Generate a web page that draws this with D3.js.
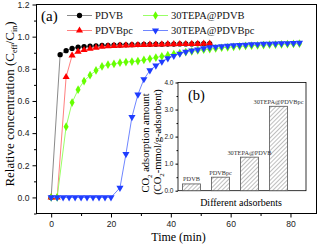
<!DOCTYPE html>
<html><head><meta charset="utf-8">
<script src="https://cdn.jsdelivr.net/npm/d3@7"></script>
<style>body{margin:0;background:#fff}svg{display:block}</style>
</head><body>
<svg id="c" width="322" height="247"></svg>
<script>
// ---- Data (a) breakthrough curves ----
const pdvbTime = [0,3,5,7,9,11,13,15,17,19,21,23,25,27,29,31,33,35,37,39,41,43,45,47,49,51,53];
const pdvbVal  = [0,0.888,0.913,0.927,0.934,0.938,0.941,0.943,0.945,0.946,0.947,0.948,0.949,0.950,0.951,0.952,0.952,0.953,0.953,0.954,0.954,0.955,0.955,0.955,0.956,0.956,0.956];
const pdvbpcTime = [0,2,5,7,9,11,13,15,17,19,21,23,25,27,29,31,33,35,37,39,41,43,45,47,49,51,53];
const pdvbpcVal  = [0,0,0.749,0.883,0.907,0.917,0.925,0.932,0.937,0.940,0.942,0.944,0.946,0.947,0.948,0.949,0.950,0.951,0.952,0.953,0.953,0.954,0.954,0.955,0.955,0.956,0.956];
const tepaTime = [0,2,5,7,9,11,13,15,17,19,21,23,25,27,29,31,33,35,37,39,41,43,45,47,49,51,53,55,57,59,61,63,65,67,69,71,73,75,77,79,81,83];
const tepaVal  = [0,0,0.44,0.59,0.67,0.724,0.76,0.79,0.815,0.826,0.83,0.838,0.842,0.845,0.848,0.855,0.862,0.87,0.878,0.885,0.892,0.898,0.904,0.909,0.914,0.919,0.923,0.927,0.931,0.934,0.937,0.94,0.942,0.944,0.946,0.948,0.95,0.951,0.952,0.954,0.955,0.956];
const tepapcTime = [0,2,4,6,8,10,12,14,16,18,20,23,25,27,29,31,33,35,37,39,41,43,45,47,49,51,53,55,57,59,61,63,65,67,69,71,73,75,77,79,81,83];
const tepapcVal  = [0,0,0,0,0,0,0,0,0,0,0,0.06,0.27,0.50,0.64,0.735,0.79,0.82,0.844,0.865,0.88,0.894,0.905,0.913,0.92,0.927,0.933,0.937,0.94,0.943,0.946,0.948,0.95,0.952,0.953,0.955,0.956,0.957,0.958,0.959,0.96,0.961];
const seriesNames = ["PDVB","PDVBpc","30TEPA@PDVB","30TEPA@PDVBpc"];
const xTicks = [0,20,40,60,80];
const yTicks = [0,0.2,0.4,0.6,0.8,1.0,1.2];
// ---- Data (b) CO2 adsorption amount ----
const adsorbents = ["PDVB","PDVBpc","30TEPA@PDVB","30TEPA@PDVBpc"];
const co2Amount = [0.25,0.50,1.24,3.12];
const insetYTicks = [0,1,2,3,4];

const svg = d3.select("#c");
const serif = "'Liberation Serif','Times New Roman',serif";
const sans = "'Liberation Sans',Arial,sans-serif";

const L=36.5, R=316.5, T=4.5, B=213.5;
const x = d3.scaleLinear().domain([-4.9,88.7]).range([L,R]);
const y = d3.scaleLinear().domain([-0.1,1.2]).range([B,T]);

// frame
svg.append("rect").attr("x",L).attr("y",T).attr("width",R-L).attr("height",B-T)
  .attr("fill","none").attr("stroke","#000").attr("stroke-width",1);

// axes
const gx = svg.append("g").attr("transform",`translate(0,${B})`)
  .call(d3.axisBottom(x).tickValues(xTicks).tickSize(4).tickSizeOuter(0).tickPadding(3));
svg.append("g").attr("transform",`translate(0,${B})`)
  .call(d3.axisBottom(x).tickValues([10,30,50,70]).tickSize(2.5).tickSizeOuter(0).tickFormat(""));
const gy = svg.append("g").attr("transform",`translate(${L},0)`)
  .call(d3.axisLeft(y).tickValues(yTicks).tickSize(4).tickSizeOuter(0).tickPadding(3).tickFormat(d3.format(".1f")));
svg.append("g").attr("transform",`translate(${L},0)`)
  .call(d3.axisLeft(y).tickValues([-0.1,0.1,0.3,0.5,0.7,0.9,1.1]).tickSize(2.5).tickSizeOuter(0).tickFormat(""));
svg.selectAll(".domain").remove();
svg.selectAll(".tick line").attr("stroke","#000");
svg.selectAll(".tick text").attr("font-family",sans).attr("font-size",8.6).attr("fill","#222");

// axis titles
svg.append("text").attr("x",(L+R)/2+2).attr("y",241).attr("text-anchor","middle")
  .attr("font-family",serif).attr("font-size",12).text("Time (min)");
const yl = svg.append("text").attr("transform","translate(13.5,104) rotate(-90)").attr("text-anchor","middle")
  .attr("font-family",serif).attr("font-size",13);
yl.append("tspan").text("Relative concentration (C");
yl.append("tspan").attr("font-size",8).attr("dy",3).text("eff");
yl.append("tspan").attr("dy",-3).text("/C");
yl.append("tspan").attr("font-size",8).attr("dy",3).text("in");
yl.append("tspan").attr("dy",-3).text(")");

// series
const defs = [
  {t:pdvbTime,v:pdvbVal,mk:"#000",ln:"#8a8a8a",sym:d3.symbolCircle,size:22,rot:0},
  {t:pdvbpcTime,v:pdvbpcVal,mk:"#ff0000",ln:"#ff8080",sym:d3.symbolTriangle,size:22,rot:0},
  {t:tepaTime,v:tepaVal,mk:"#66ff00",ln:"#99ff66",sym:d3.symbolDiamond,size:22,rot:0},
  {t:tepapcTime,v:tepapcVal,mk:"#1f3dff",ln:"#6f86ff",sym:d3.symbolTriangle,size:22,rot:180}
];
const line = d3.line().x(d=>x(d[0])).y(d=>y(d[1]));
defs.forEach((s,i)=>{
  const pts = s.t.map((t,j)=>[t,s.v[j]]);
  const g = svg.append("g");
  g.append("path").attr("d",line(pts)).attr("fill","none").attr("stroke",s.ln).attr("stroke-width",1);
  g.selectAll("path.m").data(pts).enter().append("path").attr("class","m")
    .attr("d",d3.symbol().type(s.sym).size(s.size))
    .attr("transform",d=>`translate(${x(d[0])},${y(d[1])}) rotate(${s.rot})`)
    .attr("fill",s.mk);
});

// legend
const legPos = [[67,15.5],[67,30.5],[143,15.5],[143,30.5]];
defs.forEach((s,i)=>{
  const [lx,ly]=legPos[i];
  svg.append("line").attr("x1",lx).attr("x2",lx+25).attr("y1",ly).attr("y2",ly).attr("stroke",s.ln).attr("stroke-width",1);
  svg.append("path").attr("d",d3.symbol().type(s.sym).size(s.size)())
    .attr("transform",`translate(${lx+12.5},${ly}) rotate(${s.rot})`).attr("fill",s.mk);
  svg.append("text").attr("x",lx+28).attr("y",ly+3.5).attr("font-family",serif).attr("font-size",10.5)
    .attr("fill","#111").text(seriesNames[i]);
});
svg.append("text").attr("x",41).attr("y",21).attr("font-family",serif).attr("font-size",15).text("(a)");

// ---- inset (b) ----
const iL=178, iR=306, iT=82.5, iB=190.7;
svg.append("rect").attr("x",iL).attr("y",iT).attr("width",iR-iL).attr("height",iB-iT)
  .attr("fill","#fff").attr("stroke","#000").attr("stroke-width",0.8);
const iy = d3.scaleLinear().domain([0,4]).range([iB,iT]);
const ix = d3.scaleBand().domain(adsorbents).range([177,293]).paddingInner(0.38).paddingOuter(0.19);
const pat = svg.append("defs").append("pattern").attr("id","hatch").attr("patternUnits","userSpaceOnUse")
  .attr("width",3).attr("height",3).attr("patternTransform","rotate(45)");
pat.append("rect").attr("width",3).attr("height",3).attr("fill","#fff");
pat.append("line").attr("x1",0).attr("y1",0).attr("x2",0).attr("y2",3).attr("stroke","#808080").attr("stroke-width",1);
svg.append("g").attr("transform",`translate(${iL},0)`)
  .call(d3.axisLeft(iy).tickValues(insetYTicks).tickSize(2.5).tickSizeOuter(0).tickPadding(2))
  .call(g=>g.select(".domain").remove())
  .call(g=>g.selectAll("text").attr("font-family",sans).attr("font-size",6.5).attr("fill","#222"));
svg.append("g").attr("transform",`translate(${iL},0)`)
  .call(d3.axisLeft(iy).tickValues([0.5,1.5,2.5,3.5]).tickSize(1.5).tickSizeOuter(0).tickFormat(""))
  .call(g=>g.select(".domain").remove());
svg.selectAll("g").filter(function(){return true;});
svg.append("g").selectAll("rect").data(adsorbents).enter().append("rect")
  .attr("x",d=>ix(d)).attr("width",ix.bandwidth())
  .attr("y",(d,i)=>iy(co2Amount[i])).attr("height",(d,i)=>iB-iy(co2Amount[i]))
  .attr("fill","url(#hatch)").attr("stroke","#555").attr("stroke-width",0.8);
svg.append("g").selectAll("text").data(adsorbents).enter().append("text")
  .attr("x",d=>ix(d)+ix.bandwidth()/2).attr("y",(d,i)=>iy(co2Amount[i])-2.5)
  .attr("text-anchor","middle").attr("font-family",serif).attr("font-size",6.3).attr("fill","#333")
  .text(d=>d);
svg.append("text").attr("x",188).attr("y",100).attr("font-family",serif).attr("font-size",14.5).text("(b)");
svg.append("text").attr("x",(iL+iR)/2-1).attr("y",206).attr("text-anchor","middle")
  .attr("font-family",serif).attr("font-size",10).text("Different adsorbents");
const l1 = svg.append("text").attr("transform","translate(149,143) rotate(-90)").attr("text-anchor","middle")
  .attr("font-family",serif).attr("font-size",10.5);
l1.append("tspan").text("CO");
l1.append("tspan").attr("font-size",7).attr("dy",2.5).text("2");
l1.append("tspan").attr("dy",-2.5).text(" adsorption amount");
const l2 = svg.append("text").attr("transform","translate(161,142) rotate(-90)").attr("text-anchor","middle")
  .attr("font-family",serif).attr("font-size",10.5);
l2.append("tspan").text("(CO");
l2.append("tspan").attr("font-size",7).attr("dy",2.5).text("2");
l2.append("tspan").attr("dy",-2.5).text("-mmol/g-adsorbent)");
</script>
</body></html>
